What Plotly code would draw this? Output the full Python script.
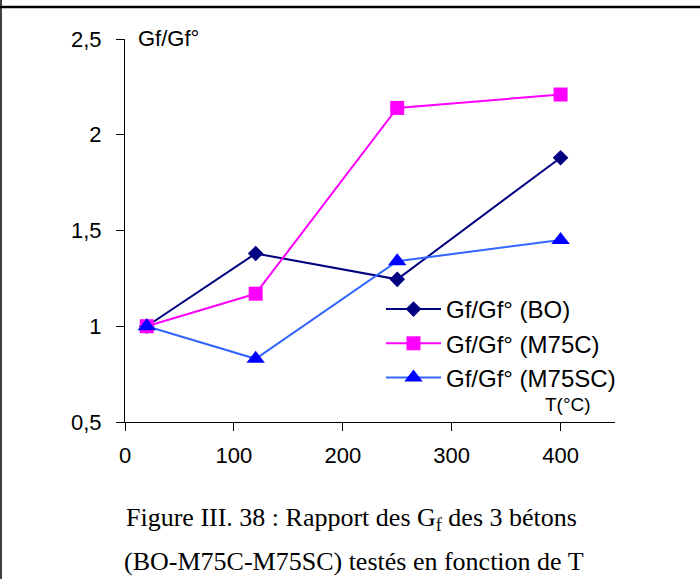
import plotly.graph_objects as go

# Data
temps = [20, 120, 250, 400]
bo = [1.0, 1.38, 1.245, 1.88]
m75c = [1.0, 1.17, 2.14, 2.21]
m75sc = [1.0, 0.83, 1.34, 1.45]

series_names = ["Gf/Gf° (BO)", "Gf/Gf° (M75C)", "Gf/Gf° (M75SC)"]
x_ticks = [0, 100, 200, 300, 400]
y_ticks = [0.5, 1, 1.5, 2, 2.5]

W, H = 700, 579
L, R, T, B = 125, 85, 39, 157
PW, PH = W - L - R, H - T - B


def px_x(px):
    return (px - L) / PW


def px_y(py):
    return (H - B - py) / PH


fig = go.Figure()
fig.add_trace(go.Scatter(
    x=temps, y=bo, name=series_names[0], mode="lines+markers",
    line=dict(color="#000080", width=2),
    marker=dict(symbol="diamond", size=12, color="#000080"),
))
fig.add_trace(go.Scatter(
    x=temps, y=m75c, name=series_names[1], mode="lines+markers",
    line=dict(color="#FF00FF", width=2),
    marker=dict(symbol="square", size=14, color="#FF00FF"),
))
fig.add_trace(go.Scatter(
    x=temps, y=m75sc, name=series_names[2], mode="lines+markers",
    line=dict(color="#3366FF", width=2),
    marker=dict(symbol="triangle-up", size=16, color="#0000FF"),
))

axis_font = dict(family="Liberation Sans, Arial, sans-serif", size=22, color="black")

fig.update_layout(
    width=W, height=H,
    margin=dict(l=L, r=R, t=T, b=B, pad=0),
    paper_bgcolor="white", plot_bgcolor="white",
    separators=", ",
    showlegend=True,
    legend=dict(
        x=px_x(381), y=px_y(287), xanchor="left", yanchor="top",
        bgcolor="rgba(0,0,0,0)", borderwidth=0,
        font=dict(family="Liberation Sans, Arial, sans-serif", size=24, color="black"),
        itemwidth=55, tracegroupgap=0,
    ),
    xaxis=dict(
        range=[0, 450], tickvals=x_ticks, showgrid=False, zeroline=False,
        showline=True, linecolor="black", linewidth=1,
        ticks="outside", ticklen=8, tickcolor="black", tickwidth=1,
        tickfont=axis_font, ticklabelstandoff=6,
    ),
    yaxis=dict(
        range=[0.5, 2.5], tickvals=y_ticks, showgrid=False, zeroline=False,
        showline=True, linecolor="black", linewidth=1,
        ticks="outside", ticklen=8, tickcolor="black", tickwidth=1,
        tickfont=axis_font, ticklabelstandoff=10,
    ),
    shapes=[
        dict(type="line", xref="paper", yref="paper",
             x0=px_x(0), x1=px_x(700), y0=px_y(7), y1=px_y(7),
             line=dict(color="black", width=2.5)),
        dict(type="line", xref="paper", yref="paper",
             x0=px_x(1), x1=px_x(1), y0=px_y(0), y1=px_y(579),
             line=dict(color="black", width=1.5)),
    ],
    annotations=[
        dict(text="Gf/Gf°", xref="paper", yref="paper",
             x=px_x(136), y=px_y(38.5), xanchor="left", yanchor="middle",
             showarrow=False,
             font=dict(family="Liberation Sans, Arial, sans-serif", size=22, color="black")),
        dict(text="T(°C)", xref="paper", yref="paper",
             x=px_x(568), y=px_y(404), xanchor="center", yanchor="middle",
             showarrow=False,
             font=dict(family="Liberation Sans, Arial, sans-serif", size=19, color="black")),
        dict(text="Figure III. 38 : Rapport des G<sub>f</sub> des 3 bétons",
             xref="paper", yref="paper",
             x=px_x(351), y=px_y(519), xanchor="center", yanchor="middle",
             showarrow=False,
             font=dict(family="Liberation Serif, Times New Roman, serif", size=26, color="black")),
        dict(text="(BO-M75C-M75SC) testés en fonction de T",
             xref="paper", yref="paper",
             x=px_x(354), y=px_y(561), xanchor="center", yanchor="middle",
             showarrow=False,
             font=dict(family="Liberation Serif, Times New Roman, serif", size=26, color="black")),
    ],
)

fig.write_html("out.html", config={"displayModeBar": False},
               post_script="document.body.style.margin='0px';")
